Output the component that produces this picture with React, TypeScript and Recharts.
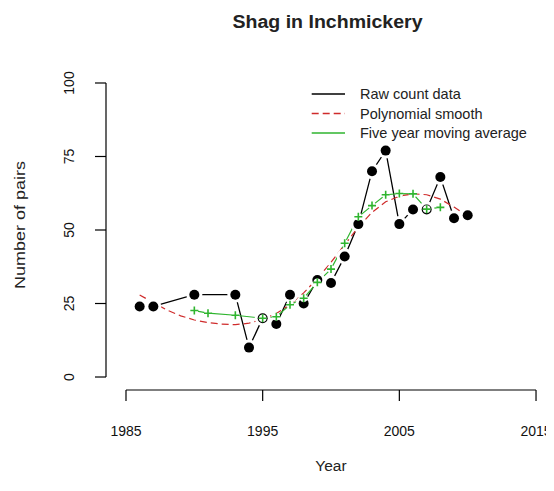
import React from 'react';
import { ComposedChart, Line, XAxis, YAxis, ReferenceLine, Legend } from 'recharts';

// ---- data ----
const RAW_YEARS = [1986, 1987, 1990, 1993, 1994, 1995, 1996, 1997, 1998, 1999, 2000, 2001, 2002, 2003, 2004, 2005, 2006, 2007, 2008, 2009, 2010];
const RAW_COUNTS = [24, 24, 28, 28, 10, 20, 18, 28, 25, 33, 32, 41, 52, 70, 77, 52, 57, 57, 68, 54, 55];

const SMOOTH_YEARS = [1986, 1987, 1988, 1989, 1990, 1991, 1992, 1993, 1994, 1995, 1996, 1997, 1998, 1999, 2000, 2001, 2002, 2003, 2004, 2005, 2006, 2007, 2008, 2009, 2010];
const SMOOTH_VALUES = [27.9, 25.3, 22.8, 20.8, 19.4, 18.5, 18.0, 17.8, 18.3, 19.6, 21.6, 24.6, 28.6, 33.5, 39.0, 45.0, 51.0, 56.0, 59.6, 61.5, 62.3, 62.0, 60.5, 57.8, 54.8];

const MA_YEARS = [1990, 1991, 1993, 1995, 1996, 1997, 1998, 1999, 2000, 2001, 2002, 2003, 2004, 2005, 2006, 2007, 2008];
const MA_VALUES = [22.6, 21.7, 21.0, 20.0, 20.5, 24.6, 26.8, 32.2, 36.7, 45.5, 54.5, 58.3, 62.0, 62.4, 62.3, 57.1, 57.7];

const X_TICKS = [1985, 1995, 2005, 2015];
const Y_TICKS = [0, 25, 50, 75, 100];

const TITLE = 'Shag in Inchmickery';
const X_LABEL = 'Year';
const Y_LABEL = 'Number of pairs';
const LEGEND_LABELS = ['Raw count data', 'Polynomial smooth', 'Five year moving average'];

// ---- tables built from the arrays ----
const rawData = RAW_YEARS.map((year, i) => ({ year, value: RAW_COUNTS[i] }));
const smoothData = SMOOTH_YEARS.map((year, i) => ({ year, value: SMOOTH_VALUES[i] }));
const maData = MA_YEARS.map((year, i) => ({ year, value: MA_VALUES[i] }));

const FONT = '"Liberation Sans", Arial, Helvetica, sans-serif';
const BLACK = '#000000';
const RED = '#cf2b2b';
const GREEN = '#2fb52f';

const W = 546;
const H = 475;

const XDOMAIN: [number, number] = [1983.537, 2015.73];
const YDOMAIN: [number, number] = [-4.42, 104.42];

const RawDot = (props: any) => {
  const { cx, cy, index } = props;
  if (cx == null || cy == null) return <g key={`rd-${index}`} />;
  return (
    <g key={`rd-${index}`}>
      <circle cx={cx} cy={cy} r={8} fill="#ffffff" />
      <circle cx={cx} cy={cy} r={5} fill={BLACK} />
    </g>
  );
};

const PlusDot = (props: any) => {
  const { cx, cy, index } = props;
  if (cx == null || cy == null) return <g key={`pd-${index}`} />;
  const a = 4;
  return (
    <g key={`pd-${index}`}>
      <circle cx={cx} cy={cy} r={3.8} fill="#ffffff" />
      <path d={`M${cx - a},${cy}H${cx + a}M${cx},${cy - a}V${cy + a}`} stroke={GREEN} strokeWidth={1.6} fill="none" />
    </g>
  );
};

const XTick = (props: any) => {
  const { x, y, payload } = props;
  return (
    <text x={x} y={y + 35} textAnchor="middle" fontFamily={FONT} fontSize={14} fill="#111">
      {payload.value}
    </text>
  );
};

const YTick = (props: any) => {
  const { x, y, payload } = props;
  const cx = x - 26;
  return (
    <text
      x={cx}
      y={y}
      dy="0.35em"
      transform={`rotate(-90 ${cx} ${y})`}
      textAnchor="middle"
      fontFamily={FONT}
      fontSize={14}
      fill="#111"
    >
      {payload.value}
    </text>
  );
};

const LegendContent = () => {
  const rows = [
    { label: LEGEND_LABELS[0], color: BLACK, dash: undefined as string | undefined },
    { label: LEGEND_LABELS[1], color: RED, dash: '7 4' },
    { label: LEGEND_LABELS[2], color: GREEN, dash: undefined },
  ];
  const ys = [14, 33.5, 53];
  return (
    <svg width={240} height={64} style={{ display: 'block', overflow: 'visible' }}>
      {rows.map((r, i) => (
        <g key={r.label}>
          <line x1={6.7} x2={40} y1={ys[i]} y2={ys[i]} stroke={r.color} strokeWidth={1.4} strokeDasharray={r.dash} />
          <text x={55} y={ys[i]} dy="0.35em" fontFamily={FONT} fontSize={14.5} fill="#222">
            {r.label}
          </text>
        </g>
      ))}
    </svg>
  );
};

export default function App() {
  return (
    <div style={{ position: 'relative', width: W, height: H, background: '#ffffff' }}>
      <ComposedChart width={W} height={H} margin={{ top: 62, right: 8, bottom: 33, left: 38 }}>
        <XAxis
          type="number"
          dataKey="year"
          domain={XDOMAIN}
          allowDataOverflow
          ticks={X_TICKS}
          interval={0}
          axisLine={false}
          tickLine={{ stroke: BLACK, strokeWidth: 1.2 }}
          tickSize={11}
          tickMargin={0}
          tick={<XTick />}
          height={60}
        />
        <YAxis
          type="number"
          domain={YDOMAIN}
          allowDataOverflow
          ticks={Y_TICKS}
          interval={0}
          axisLine={false}
          tickLine={{ stroke: BLACK, strokeWidth: 1.2 }}
          tickSize={11}
          tickMargin={0}
          tick={<YTick />}
          width={60}
        />
        <ReferenceLine
          segment={[{ x: X_TICKS[0], y: YDOMAIN[0] }, { x: X_TICKS[X_TICKS.length - 1], y: YDOMAIN[0] }]}
          stroke={BLACK}
          strokeWidth={1.2}
          ifOverflow="visible"
        />
        <ReferenceLine
          segment={[{ x: XDOMAIN[0], y: Y_TICKS[0] }, { x: XDOMAIN[0], y: Y_TICKS[Y_TICKS.length - 1] }]}
          stroke={BLACK}
          strokeWidth={1.2}
          ifOverflow="visible"
        />
        <Line
          data={rawData}
          dataKey="value"
          name={LEGEND_LABELS[0]}
          type="linear"
          stroke={BLACK}
          strokeWidth={1.3}
          dot={RawDot}
          activeDot={false}
          isAnimationActive={false}
          legendType="line"
        />
        <Line
          data={maData}
          dataKey="value"
          name={LEGEND_LABELS[2]}
          type="linear"
          stroke={GREEN}
          strokeWidth={1.2}
          dot={PlusDot}
          activeDot={false}
          isAnimationActive={false}
          legendType="line"
        />
        <Line
          data={smoothData}
          dataKey="value"
          name={LEGEND_LABELS[1]}
          type="linear"
          stroke={RED}
          strokeWidth={1.2}
          strokeDasharray="7 4"
          dot={false}
          activeDot={false}
          isAnimationActive={false}
          legendType="line"
        />
        <Legend
          layout="vertical"
          align="center"
          verticalAlign="middle"
          content={<LegendContent />}
          wrapperStyle={{ position: 'absolute', top: 72, left: 297, width: 240, height: 64, bottom: 'auto', right: 'auto' }}
        />
      </ComposedChart>
      <svg width={W} height={H} style={{ position: 'absolute', left: 0, top: 0, pointerEvents: 'none' }}>
        <text x={319.5} y={19.7} textAnchor="middle" fontFamily={FONT} fontSize={18} fontWeight="bold" fill="#222" textLength={190} lengthAdjust="spacingAndGlyphs">
          {TITLE}
        </text>
        <text x={12} y={217} dy="0.35em" transform="rotate(-90 12 217)" textAnchor="middle" fontFamily={FONT} fontSize={15.5} fill="#222" textLength={128} lengthAdjust="spacingAndGlyphs">
          {Y_LABEL}
        </text>
        <text x={323} y={463} textAnchor="middle" fontFamily={FONT} fontSize={15.5} fill="#222">
          {X_LABEL}
        </text>
      </svg>
    </div>
  );
}
